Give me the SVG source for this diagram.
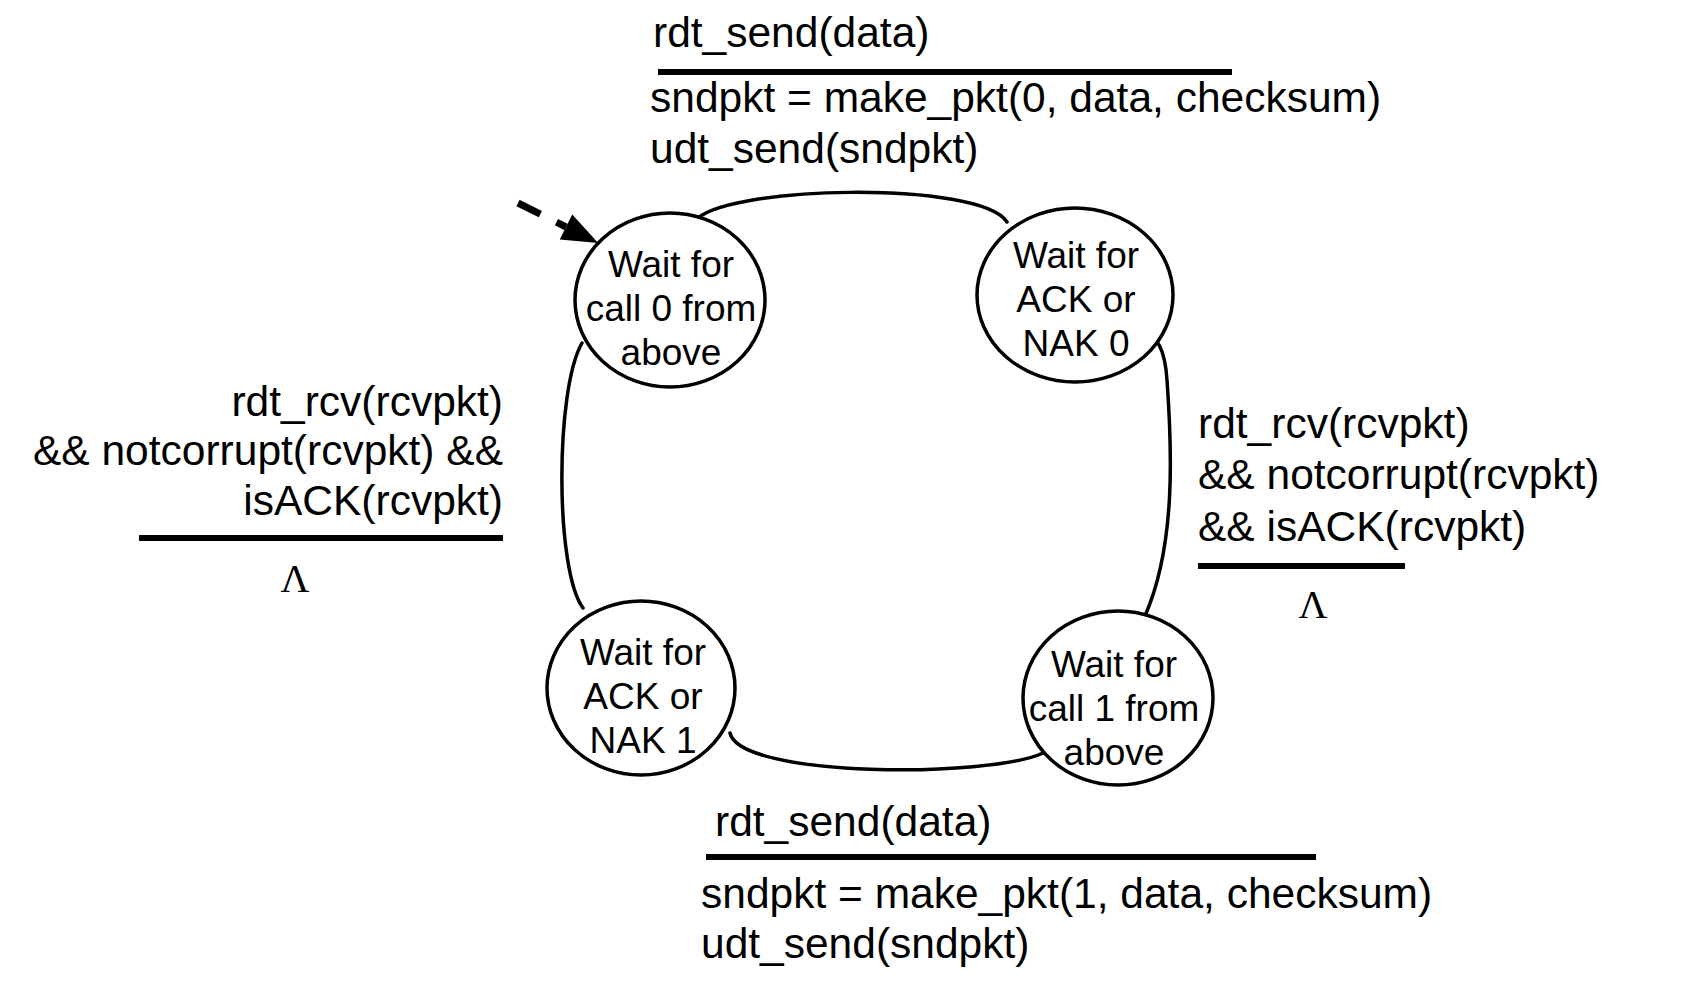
<svg xmlns="http://www.w3.org/2000/svg" width="1701" height="992" viewBox="0 0 1701 992">
  <style>
    .state { fill: #ffffff; stroke: #000000; stroke-width: 3.5; }
    .state-text { font-family: "Liberation Sans", Arial, sans-serif; font-size: 37px; fill: #000000; text-anchor: middle; }
    .label { font-family: "Liberation Sans", Arial, sans-serif; font-size: 42.5px; fill: #000000; }
    .lambda { font-family: "Liberation Serif", "Times New Roman", serif; font-size: 40px; fill: #000000; text-anchor: middle; }
    .rule { stroke: #000000; stroke-width: 6; }
    .edge { fill: none; stroke: #000000; stroke-width: 3.5; stroke-linecap: round; }
    .init { fill: none; stroke: #000000; stroke-width: 7; stroke-dasharray: 25 18; }
  </style>
  <defs>
    <marker id="arrowhead" markerUnits="userSpaceOnUse" markerWidth="40" markerHeight="30" refX="0" refY="14" orient="auto" overflow="visible">
      <path d="M0,0 L36,14 L0,28 z" fill="#000000"/>
    </marker>
  </defs>

  <rect width="1701" height="992" fill="#ffffff"/>

  <!-- transitions -->
  <g id="connectors">
    <path class="init" d="M518,203 L566,227" marker-end="url(#arrowhead)"/>
    <path class="edge" d="M694,222 C720,185 980,180 1007,222"/>
    <path class="edge" d="M1140,328 C1158,336 1165,350 1167,380 C1172,450 1176,545 1145,616"/>
    <path class="edge" d="M730,733 C740,778 990,778 1043,753"/>
    <path class="edge" d="M583,608 C555,570 555,390 582,343"/>
  </g>

  <!-- states -->
  <g id="wait-call-0">
    <ellipse class="state" cx="670" cy="300" rx="95" ry="87"/>
    <text class="state-text" x="671" y="277">Wait for</text>
    <text class="state-text" x="671" y="321">call 0 from</text>
    <text class="state-text" x="671" y="365">above</text>
  </g>
  <g id="wait-ack-nak-0">
    <ellipse class="state" cx="1075" cy="295" rx="98" ry="87"/>
    <text class="state-text" x="1076" y="268">Wait for</text>
    <text class="state-text" x="1076" y="312">ACK or</text>
    <text class="state-text" x="1076" y="356">NAK 0</text>
  </g>
  <g id="wait-ack-nak-1">
    <ellipse class="state" cx="641" cy="688" rx="94" ry="87"/>
    <text class="state-text" x="643" y="665">Wait for</text>
    <text class="state-text" x="643" y="709">ACK or</text>
    <text class="state-text" x="643" y="753">NAK 1</text>
  </g>
  <g id="wait-call-1">
    <ellipse class="state" cx="1118" cy="698" rx="95" ry="87"/>
    <text class="state-text" x="1114" y="677">Wait for</text>
    <text class="state-text" x="1114" y="721">call 1 from</text>
    <text class="state-text" x="1114" y="765">above</text>
  </g>

  <!-- transition labels -->
  <g id="label-send-0">
    <text class="label" x="653" y="47">rdt_send(data)</text>
    <line class="rule" x1="658" y1="72" x2="1232" y2="72"/>
    <text class="label" x="650" y="112">sndpkt = make_pkt(0, data, checksum)</text>
    <text class="label" x="650" y="163">udt_send(sndpkt)</text>
  </g>
  <g id="label-ack-0">
    <text class="label" x="1198" y="438">rdt_rcv(rcvpkt)</text>
    <text class="label" x="1198" y="489">&amp;&amp; notcorrupt(rcvpkt)</text>
    <text class="label" x="1198" y="541">&amp;&amp; isACK(rcvpkt)</text>
    <line class="rule" x1="1198" y1="566" x2="1405" y2="566"/>
    <text class="lambda" x="1313" y="618">Λ</text>
  </g>
  <g id="label-send-1">
    <text class="label" x="715" y="836">rdt_send(data)</text>
    <line class="rule" x1="706" y1="857" x2="1316" y2="857"/>
    <text class="label" x="701" y="908">sndpkt = make_pkt(1, data, checksum)</text>
    <text class="label" x="701" y="958">udt_send(sndpkt)</text>
  </g>
  <g id="label-ack-1">
    <text class="label" x="503" y="416" text-anchor="end">rdt_rcv(rcvpkt)</text>
    <text class="label" x="503" y="465" text-anchor="end">&amp;&amp; notcorrupt(rcvpkt) &amp;&amp;</text>
    <text class="label" x="503" y="515" text-anchor="end">isACK(rcvpkt)</text>
    <line class="rule" x1="139" y1="538" x2="503" y2="538"/>
    <text class="lambda" x="295" y="592">Λ</text>
  </g>
</svg>
